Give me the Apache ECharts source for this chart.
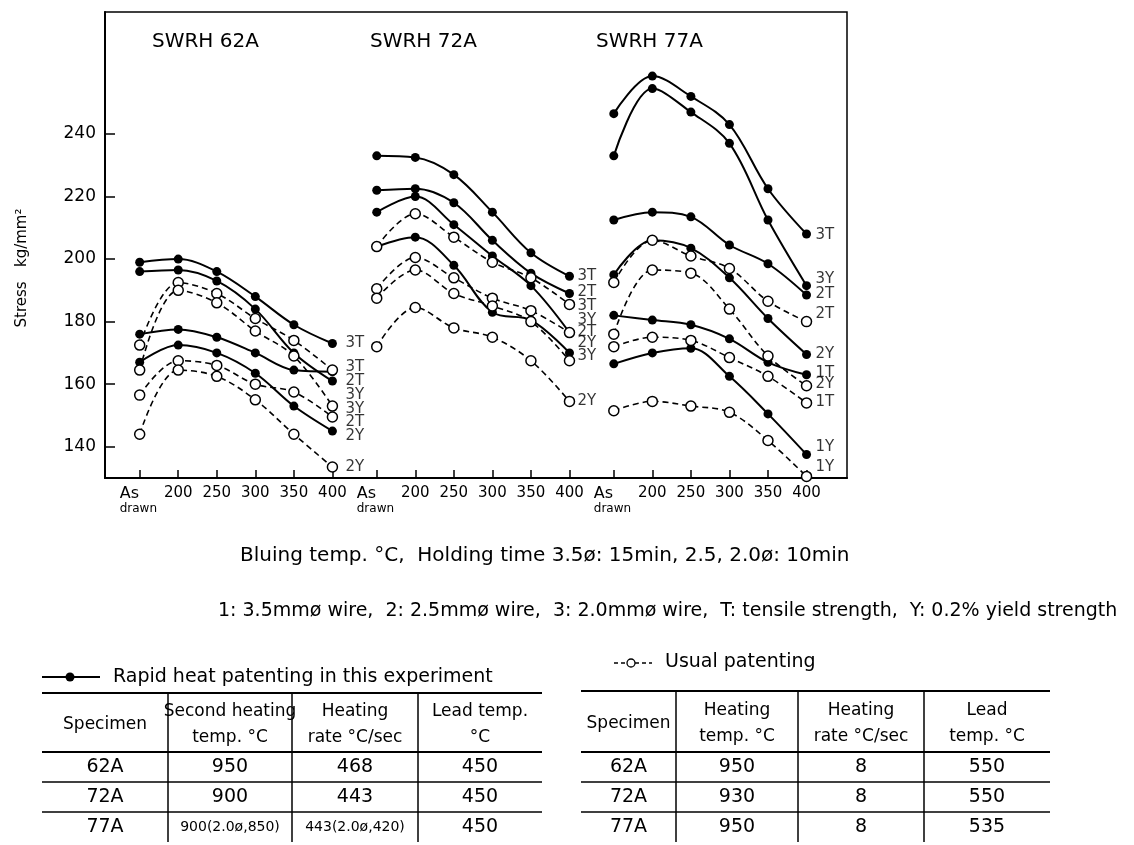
<!DOCTYPE html>
<html>
<head>
    <meta charset="utf-8">
    <title>Bluing temperature vs stress</title>
    <script src="https://cdn.jsdelivr.net/npm/echarts@6/dist/echarts.min.js"></script>
    <style>
        html, body { margin: 0; padding: 0; background: #fff; }
        #chart { width: 1134px; height: 845px; }
    </style>
</head>
<body>
<div id="chart"></div>
<script>
    // x categories (bluing temp.), repeated for each steel
    var tempLabels = ['As drawn', '200', '250', '300', '350', '400'];
    var panelNames = ['SWRH 62A', 'SWRH 72A', 'SWRH 77A'];
    var yTicks = [140, 160, 180, 200, 220, 240];

    // rapid heat patenting (solid line, filled dot) - kg/mm2
    var r62_3T = [199, 200, 196, 188, 179, 173];
    var r62_2T = [196, 196.5, 193, 184, 170, 161];
    var r62_3Y = [176, 177.5, 175, 170, 164.5, 164];
    var r62_2Y = [167, 172.5, 170, 163.5, 153, 145];
    var r72_3T = [233, 232.5, 227, 215, 202, 194.5];
    var r72_2T = [222, 222.5, 218, 206, 195.5, 189];
    var r72_3Y = [215, 220, 211, 201, 191.5, 176.5];
    var r72_2Y = [204, 207, 198, 183, 180.5, 170];
    var r77_3T = [246.5, 258.5, 252, 243, 222.5, 208];
    var r77_3Y = [233, 254.5, 247, 237, 212.5, 191.5];
    var r77_2T = [212.5, 215, 213.5, 204.5, 198.5, 188.5];
    var r77_2Y = [195, 206, 203.5, 194, 181, 169.5];
    var r77_1T = [182, 180.5, 179, 174.5, 167, 163];
    var r77_1Y = [166.5, 170, 171.5, 162.5, 150.5, 137.5];

    // usual patenting (dashed line, open dot)
    var u62_3T = [172.5, 192.5, 189, 181, 174, 164.5];
    var u62_3Y = [164.5, 190, 186, 177, 169, 153];
    var u62_2T = [156.5, 167.5, 166, 160, 157.5, 149.5];
    var u62_2Y = [144, 164.5, 162.5, 155, 144, 133.5];
    var u72_3T = [204, 214.5, 207, 199, 194, 185.5];
    var u72_3Y = [190.5, 200.5, 194, 187.5, 183.5, 176.5];
    var u72_2T = [187.5, 196.5, 189, 185, 180, 167.5];
    var u72_2Y = [172, 184.5, 178, 175, 167.5, 154.5];
    var u77_2T = [192.5, 206, 201, 197, 186.5, 180];
    var u77_2Y = [176, 196.5, 195.5, 184, 169, 159.5];
    var u77_1T = [172, 175, 174, 168.5, 162.5, 154];
    var u77_1Y = [151.5, 154.5, 153, 151, 142, 130.5];

    // curve names written at the 400 end of each panel
    var endLabels62 = [['3T', 173], ['3T', 165.5], ['2T', 161], ['3Y', 156.5], ['3Y', 152], ['2T', 148], ['2Y', 143.5], ['2Y', 133.5]];
    var endLabels72 = [['3T', 194.5], ['2T', 189.5], ['3T', 185], ['3Y', 180.5], ['2T', 176.5], ['2Y', 173], ['3Y', 169], ['2Y', 154.5]];
    var endLabels77 = [['3T', 207.7], ['3Y', 193.7], ['2T', 188.9], ['2T', 182.5], ['2Y', 169.7], ['1T', 163.5], ['2Y', 160], ['1T', 154.2], ['1Y', 139.8], ['1Y', 133.4]];

    // tables under the chart
    var rapidHead = [['Specimen'], ['Second heating', 'temp. °C'], ['Heating', 'rate °C/sec'], ['Lead temp.', '°C']];
    var rapidRows = [['62A', '950', '468', '450'], ['72A', '900', '443', '450'], ['77A', '900(2.0ø,850)', '443(2.0ø,420)', '450']];
    var usualHead = [['Specimen'], ['Heating', 'temp. °C'], ['Heating', 'rate °C/sec'], ['Lead', 'temp. °C']];
    var usualRows = [['62A', '950', '8', '550'], ['72A', '930', '8', '550'], ['77A', '950', '8', '535']];

    var FONT = 'DejaVu Sans';
    var PANEL_STEP = 6.15;

    function xPos(panel, i) {
        return panel * PANEL_STEP + i;
    }

    var tickPos = [];
    for (var p = 0; p < 3; p++) {
        for (var i = 0; i < tempLabels.length; i++) tickPos.push(xPos(p, i));
    }

    function toPoints(panel, vals) {
        return vals.map(function (v, i) { return [xPos(panel, i), v]; });
    }

    function solid(panel, vals) {
        return {
            type: 'line', data: toPoints(panel, vals), smooth: 0.35,
            symbol: 'circle', symbolSize: 9, z: 3,
            lineStyle: { color: '#000', width: 2 },
            itemStyle: { color: '#000' }
        };
    }

    function usual(panel, vals) {
        return {
            type: 'line', data: toPoints(panel, vals), smooth: 0.35,
            symbol: 'circle', symbolSize: 10, z: 4,
            lineStyle: { color: '#000', width: 1.6, type: [6, 4] },
            itemStyle: { color: '#fff', borderColor: '#000', borderWidth: 1.5 }
        };
    }

    function endLabels(panel, list, gap) {
        return {
            type: 'scatter', z: 5, symbol: 'circle', symbolSize: 0.1,
            itemStyle: { color: 'transparent' },
            data: list.map(function (l) { return { name: l[0], value: [xPos(panel, 5), l[1]] }; }),
            label: {
                show: true, position: 'right', distance: gap, formatter: '{b}',
                color: '#000', fontFamily: FONT, fontSize: 15
            }
        };
    }

    var series = [
        solid(0, r62_3T), solid(0, r62_2T), solid(0, r62_3Y), solid(0, r62_2Y),
        usual(0, u62_3T), usual(0, u62_3Y), usual(0, u62_2T), usual(0, u62_2Y),
        solid(1, r72_3T), solid(1, r72_2T), solid(1, r72_3Y), solid(1, r72_2Y),
        usual(1, u72_3T), usual(1, u72_3Y), usual(1, u72_2T), usual(1, u72_2Y),
        solid(2, r77_3T), solid(2, r77_3Y), solid(2, r77_2T), solid(2, r77_2Y), solid(2, r77_1T), solid(2, r77_1Y),
        usual(2, u77_2T), usual(2, u77_2Y), usual(2, u77_1T), usual(2, u77_1Y),
        endLabels(0, endLabels62, 13), endLabels(1, endLabels72, 8), endLabels(2, endLabels77, 9)
    ];

    // ---- graphic: panel names, notes, legends, tables
    var graphics = [];

    function text(x, y, str, size, align, rot) {
        graphics.push({
            type: 'text', x: x, y: y, rotation: rot || 0, silent: true,
            style: {
                text: str, fill: '#000', font: size + 'px "' + FONT + '"',
                textAlign: align || 'left', textVerticalAlign: 'middle'
            }
        });
    }

    function hline(x1, x2, y, w) {
        graphics.push({ type: 'line', silent: true, shape: { x1: x1, y1: y, x2: x2, y2: y }, style: { stroke: '#000', lineWidth: w || 1.5 } });
    }

    function vline(x, y1, y2) {
        graphics.push({ type: 'line', silent: true, shape: { x1: x, y1: y1, x2: x, y2: y2 }, style: { stroke: '#000', lineWidth: 1.5 } });
    }

    var panelTitleX = [152, 370, 596];
    panelNames.forEach(function (n, k) { text(panelTitleX[k], 42, n, 20); });

    // y axis name
    text(22, 268, 'Stress   kg/mm²', 15, 'center', Math.PI / 2);

    text(240, 556, 'Bluing temp. °C,  Holding time 3.5ø: 15min, 2.5, 2.0ø: 10min', 20);
    text(218, 611, '1: 3.5mmø wire,  2: 2.5mmø wire,  3: 2.0mmø wire,  T: tensile strength,  Y: 0.2% yield strength', 19);

    // legend keys
    hline(42, 100, 677, 2);
    graphics.push({ type: 'circle', silent: true, shape: { cx: 70, cy: 677, r: 4.5 }, style: { fill: '#000' } });
    text(113, 677, 'Rapid heat patenting in this experiment', 19);
    graphics.push({ type: 'line', silent: true, shape: { x1: 614, y1: 663, x2: 652, y2: 663 }, style: { stroke: '#000', lineWidth: 1.3, lineDash: [4, 3] } });
    graphics.push({ type: 'circle', silent: true, shape: { cx: 631, cy: 663, r: 4 }, style: { fill: '#fff', stroke: '#000', lineWidth: 1.3 } });
    text(665, 662, 'Usual patenting', 19);

    function table(cols, top, headBottom, rowH, head, rows) {
        var left = cols[0], right = cols[cols.length - 1];
        hline(left, right, top, 2);
        hline(left, right, headBottom, 2);
        for (var r = 1; r < rows.length; r++) hline(left, right, headBottom + r * rowH, 1.5);
        for (var c = 1; c < cols.length - 1; c++) vline(cols[c], top, headBottom + rows.length * rowH);
        head.forEach(function (h, c) {
            var cx = (cols[c] + cols[c + 1]) / 2;
            var mid = (top + headBottom) / 2;
            if (h.length === 1) text(cx, mid + 2, h[0], 17, 'center');
            else { text(cx, mid - 11, h[0], 17, 'center'); text(cx, mid + 15, h[1], 17, 'center'); }
        });
        rows.forEach(function (row, r) {
            var cy = headBottom + (r + 0.5) * rowH;
            row.forEach(function (cell, c) {
                var cx = (cols[c] + cols[c + 1]) / 2;
                text(cx, cy, cell, cell.length > 6 ? 14 : 19, 'center');
            });
        });
    }

    table([42, 168, 292, 418, 542], 693, 752, 30, rapidHead, rapidRows);
    table([581, 676, 798, 924, 1050], 691, 752, 30, usualHead, usualRows);

    var chart = echarts.init(document.getElementById('chart'));
    chart.setOption({
        animation: false,
        backgroundColor: '#fff',
        textStyle: { fontFamily: FONT, color: '#000' },
        grid: { left: 105, top: 12, width: 742, height: 466, show: true, borderColor: '#000', borderWidth: 1.5 },
        xAxis: {
            type: 'value', min: -0.9, max: 18.35,
            splitLine: { show: false },
            axisLine: { onZero: false, lineStyle: { color: '#000', width: 2 } },
            axisTick: { inside: true, length: 8, customValues: tickPos, lineStyle: { color: '#000', width: 1.5 } },
            axisLabel: {
                customValues: tickPos, margin: 8, color: '#000', fontSize: 15, fontFamily: FONT,
                formatter: function (v) {
                    var idx = tickPos.findIndex(function (t) { return Math.abs(t - v) < 1e-6; });
                    var k = idx % tempLabels.length;
                    return k === 0 ? '{a|As}\n{d|drawn}' : tempLabels[k];
                },
                rich: {
                    a: { fontSize: 16, width: 40, align: 'left', lineHeight: 16, fontFamily: FONT },
                    d: { fontSize: 12, width: 40, align: 'left', lineHeight: 14, fontFamily: FONT }
                }
            }
        },
        yAxis: {
            type: 'value', min: 130, max: 279,
            splitLine: { show: false },
            axisLine: { onZero: false, lineStyle: { color: '#000', width: 2 } },
            axisTick: { inside: true, length: 10, customValues: yTicks, lineStyle: { color: '#000', width: 1.5 } },
            axisLabel: { customValues: yTicks, margin: 9, color: '#000', fontSize: 17, fontFamily: FONT }
        },
        graphic: graphics,
        series: series
    });
</script>
</body>
</html>
